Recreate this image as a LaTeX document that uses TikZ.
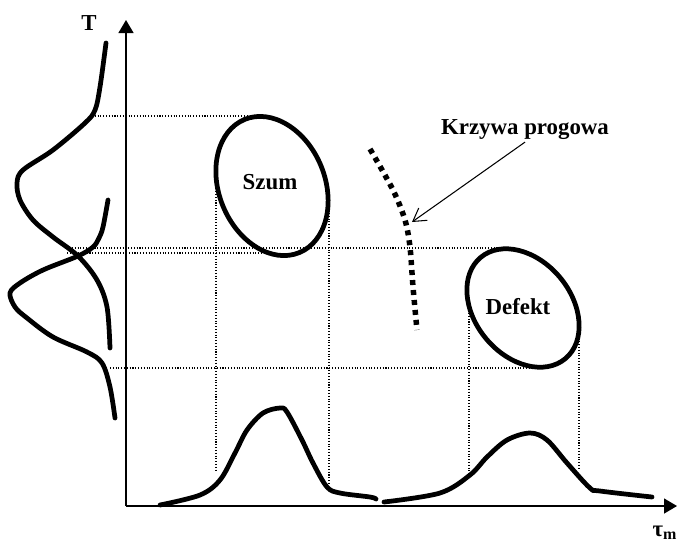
\documentclass[tikz,border=0pt]{standalone}
\usepackage{fontspec}
\setmainfont{Liberation Serif}
\usetikzlibrary{arrows.meta}

\begin{document}
\begin{tikzpicture}[
		x=0.02cm, y=-0.02cm,
		axis/.style={-{Triangle[length=0.26cm, width=0.3cm]}, line width=0.8pt},
		guide/.style={line width=0.6pt, dash pattern=on 0.6pt off 1pt},
		curve/.style={line width=2.7pt, line cap=round, line join=round},
		blob/.style={line width=2.7pt},
		threshold/.style={line width=0.11cm, dash pattern=on 0.1cm off 0.1cm},
		pointer/.style={-{Straight Barb[length=0.25cm, width=0.3cm]}, line width=0.6pt},
		lbl/.style={font=\fontsize{13}{15}\selectfont\bfseries, inner sep=1pt}
	]
	\useasboundingbox (0,0) rectangle (678,542);

	% axes
	\coordinate (origin) at (126,506);
	\coordinate (ytip) at (126,20);
	\coordinate (xtip) at (677,506);
	\draw[axis] (origin) -- (ytip);
	\draw[axis] (origin) -- (xtip);
	\node[lbl] (tlabel) at (89,23) {T};
	\node[lbl] (taulabel) at (665,533) {τ\textsubscript{m}};

	% projection guides
	\draw[guide] (92,116) -- (247,116);
	\draw[guide] (67,253) -- (262,253);
	\draw[guide] (72,248) -- (500,248);
	\draw[guide] (110,368) -- (533,368);
	\draw[guide] (216,180) -- (216,470);
	\draw[guide] (329,213) -- (329,485);
	\draw[guide] (469,313) -- (469,477);
	\draw[guide] (579,330) -- (579,470);

	% classes
	\draw[blob, rotate around={-67.7:(272,186)}] (272,186) ellipse [x radius=1.44cm, y radius=1.06cm];
	\draw[blob, rotate around={-50:(523,308)}] (523,308) ellipse [x radius=1.32cm, y radius=0.96cm];
	\node[lbl] (szum) at (270,182) {Szum};
	\node[lbl] (defekt) at (518,307) {Defekt};

	% distributions of T
	\draw[curve] plot[smooth, tension=0.55] coordinates {(106,43) (100,87) (95,110) (85,123) (53,150) (23,170) (17,183) (20,200) (33,220) (53,237) (78,256) (97,280) (107,307) (110,348)};
	\draw[curve] plot[smooth, tension=0.55] coordinates {(108,200) (103,227) (99,238) (93,247) (78,256) (43,270) (20,283) (10,293) (15,307) (27,318) (53,337) (87,352) (102,363) (110,387) (115,418)};

	% distributions of tau
	\draw[curve] plot[smooth, tension=0.55] coordinates {(160,505) (200,495) (220,480) (235,453) (247,430) (263,413) (280,408) (287,412) (302,440) (313,463) (327,487) (340,493) (370,497) (376,499)};
	\draw[curve] plot[smooth, tension=0.55] coordinates {(384,502) (440,493) (470,475) (487,457) (507,440) (530,433) (547,440) (567,463) (590,488) (600,491) (652,497)};

	% threshold
	\draw[threshold] plot[smooth] coordinates {(370,149) (393,190) (405,220) (410,247) (413,287) (417,330)};
	\coordinate (prog) at (412,222);
	\node[lbl] (krzywa) at (525,130) {Krzywa progowa};
	\draw[pointer] (krzywa.south) -- (prog);
\end{tikzpicture}
\end{document}
